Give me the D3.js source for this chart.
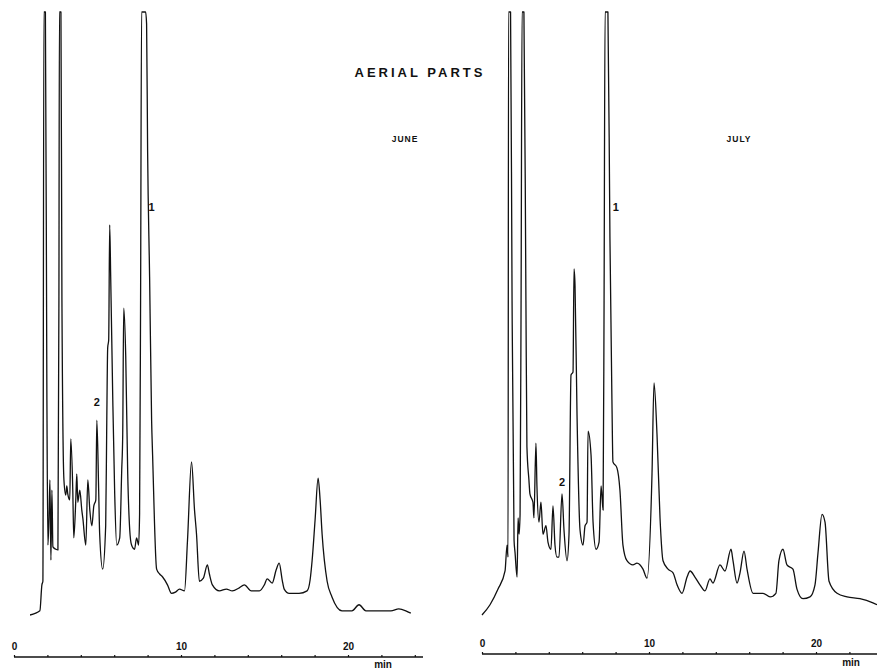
<!DOCTYPE html>
<html>
<head>
<meta charset="utf-8">
<script src="https://cdn.jsdelivr.net/npm/d3@7"></script>
<style>
  body { margin: 0; background: #fff; }
  svg { display: block; }
  text { font-family: "Liberation Sans", Arial, sans-serif; fill: #111; }
</style>
</head>
<body>
<div id="chart"></div>
<script>
// retention time (min), detector response (% of full scale; 100 = pen off scale)
var juneTrace = [
  [0.96,0],[1.55,0.7],[1.67,5.0],[1.73,5.6],[1.79,100],[1.88,100],[1.97,35.7],[2.03,11.6],
  [2.09,15.8],[2.15,22.4],[2.21,9.1],[2.27,20.7],[2.33,11.3],[2.51,10.9],[2.63,10.8],[2.69,52.2],
  [2.72,100],[2.81,100],[2.87,52.2],[2.99,22.4],[3.10,19.9],[3.16,21.4],[3.22,20.1],[3.34,19.1],
  [3.40,29.2],[3.52,20.7],[3.58,12.8],[3.70,19.1],[3.76,23.4],[3.82,18.7],[3.94,20.7],[4.06,17.4],
  [4.12,16.1],[4.30,11.6],[4.42,22.4],[4.54,17.4],[4.66,14.8],[4.78,18.1],[4.90,19.1],[4.96,32.3],
  [5.07,20.7],[5.13,13.4],[5.31,7.6],[5.49,14.8],[5.55,30.5],[5.61,44.3],[5.67,45.6],[5.73,64.7],
  [5.79,56.1],[5.91,36.5],[6.03,20.1],[6.15,11.6],[6.33,12.8],[6.45,24.0],[6.51,29.9],[6.57,50.9],
  [6.69,43.0],[6.81,23.4],[6.93,14.1],[7.04,11.6],[7.22,10.9],[7.34,12.8],[7.46,11.6],[7.52,16.7],
  [7.58,52.2],[7.64,100],[7.88,100],[7.94,98.0],[8.00,77.1],[8.12,56.1],[8.24,32.3],[8.30,26.5],
  [8.54,7.6],[8.72,6.8],[8.90,6.3],[9.19,5.0],[9.43,3.6],[9.67,3.8],[9.91,4.3],[10.21,4.0],
  [10.39,12.4],[10.63,25.4],[10.81,17.4],[10.93,13.4],[11.10,5.6],[11.34,6.1],[11.58,8.3],[11.70,6.8],
  [11.88,5.0],[12.30,4.0],[12.72,4.3],[13.07,4.0],[13.49,4.5],[13.79,5.0],[14.21,4.0],[14.69,4.0],
  [14.99,5.0],[15.16,6.0],[15.46,5.3],[15.70,7.5],[15.88,8.6],[16.06,5.8],[16.18,4.3],[16.48,3.6],
  [17.07,3.6],[17.55,4.0],[17.73,5.8],[17.85,9.0],[18.03,15.8],[18.21,22.7],[18.33,19.1],[18.45,13.4],
  [18.75,5.6],[19.04,3.0],[19.64,0.7],[20.24,0.7],[20.66,1.7],[21.07,0.7],[21.85,0.7],[22.57,0.7],
  [23.04,1.0],[23.46,0.7],[23.76,0.3]
];

var julyTrace = [
  [0,0],[0.48,1.7],[0.96,4.3],[1.38,7.3],[1.50,11.6],[1.56,9.6],[1.59,100],[1.71,100],
  [1.80,52.2],[1.92,12.4],[1.98,10.3],[2.10,6.3],[2.16,16.1],[2.22,13.4],[2.28,16.7],[2.34,52.2],
  [2.40,100],[2.51,100],[2.63,52.2],[2.69,27.9],[2.81,22.4],[2.87,20.1],[3.05,18.7],[3.11,16.1],
  [3.23,28.5],[3.29,21.4],[3.41,15.4],[3.53,18.7],[3.65,13.4],[3.83,14.8],[3.95,12.1],[4.13,10.9],
  [4.25,18.1],[4.37,11.6],[4.49,9.6],[4.61,9.6],[4.79,20.1],[4.91,14.1],[5.09,9.0],[5.21,13.4],
  [5.33,39.8],[5.45,40.3],[5.51,57.4],[5.57,54.7],[5.69,33.2],[5.87,14.1],[6.05,11.6],[6.17,14.8],
  [6.29,15.4],[6.35,30.5],[6.53,26.5],[6.65,15.4],[6.83,10.9],[7.01,12.1],[7.13,21.4],[7.25,17.4],
  [7.31,52.2],[7.37,100],[7.54,100],[7.66,62.7],[7.78,35.7],[7.84,25.4],[8.08,24.4],[8.26,20.7],
  [8.44,11.6],[8.68,9.0],[9.04,8.3],[9.28,8.6],[9.64,7.6],[9.88,6.1],[10.18,23.4],[10.30,38.5],
  [10.48,29.9],[10.66,16.1],[10.84,9.0],[11.14,7.6],[11.44,7.0],[11.68,5.0],[11.98,3.6],[12.28,6.3],
  [12.46,7.3],[12.75,6.3],[13.05,5.0],[13.35,4.0],[13.65,6.0],[13.83,5.3],[14.25,8.3],[14.55,7.3],
  [14.91,10.9],[15.03,9.0],[15.27,5.3],[15.45,7.0],[15.69,10.6],[15.87,7.6],[16.23,3.6],[16.83,3.6],
  [17.25,3.0],[17.60,3.6],[17.78,9.0],[18.02,10.9],[18.26,8.3],[18.62,7.6],[18.86,4.3],[19.22,2.7],
  [19.64,3.0],[19.94,5.0],[20.12,10.3],[20.36,16.7],[20.54,15.4],[20.78,5.6],[21.26,3.6],[21.86,3.0],
  [22.63,2.7],[23.41,2.0],[23.65,1.7]
];

// numbered peaks: [label, time, response where the label sits]
var junePeaks = [["1", 8.24, 67], ["2", 4.96, 34.7]];
var julyPeaks = [["1", 8.02, 67], ["2", 4.79, 21.4]];

var tickMinutes = [0,2,4,6,8,10,12,14,16,18,20,22,24];
var labelMinutes = [0,10,20];

var width = 877, height = 671;

var svg = d3.select("#chart").append("svg")
  .attr("width", width)
  .attr("height", height);

var y = d3.scaleLinear().domain([0, 100]).range([615, 12]);

var drawPanel = function(trace, peaks, month, x0, axisEnd, axisY, monthPos) {
  var x = d3.scaleLinear().domain([0, 10]).range([x0, x0 + 167]);

  var line = d3.line()
    .x(d => x(d[0]))
    .y(d => y(d[1]))
    .curve(d3.curveMonotoneX);

  svg.append("path")
    .datum(trace)
    .attr("d", line)
    .attr("fill", "none")
    .attr("stroke", "#111")
    .attr("stroke-width", 1.3)
    .attr("stroke-linejoin", "round");

  svg.selectAll(".peak-" + month)
    .data(peaks)
    .enter().append("text")
    .attr("class", "peak-" + month)
    .attr("x", d => x(d[1]))
    .attr("y", d => y(d[2]))
    .attr("text-anchor", "middle")
    .style("font-size", "11px")
    .style("font-weight", "bold")
    .text(d => d[0]);

  var axis = d3.axisTop(x)
    .tickValues(tickMinutes)
    .tickSize(2)
    .tickPadding(5)
    .tickFormat(d => labelMinutes.indexOf(d) >= 0 ? d : "");

  var g = svg.append("g")
    .attr("transform", "translate(0," + axisY + ")")
    .call(axis);
  g.select(".domain").remove();
  g.selectAll("text")
    .style("font-family", "'Liberation Sans', Arial, sans-serif")
    .style("font-size", "10px")
    .style("font-weight", "bold")
    .attr("fill", "#111");
  g.selectAll("line").attr("stroke", "#111").attr("stroke-width", 1.2);
  g.append("line")
    .attr("x1", x(0)).attr("x2", axisEnd)
    .attr("stroke", "#111")
    .attr("stroke-width", 1.5);

  svg.append("text")
    .attr("x", x(22.1))
    .attr("y", Math.min(axisY + 12, 668))
    .attr("text-anchor", "middle")
    .style("font-size", "10px")
    .style("font-weight", "bold")
    .text("min");

  svg.append("text")
    .attr("x", monthPos[0])
    .attr("y", monthPos[1])
    .attr("text-anchor", "middle")
    .style("font-size", "8.5px")
    .style("font-weight", "bold")
    .style("letter-spacing", "1px")
    .text(month);
};

drawPanel(juneTrace, junePeaks, "JUNE", 14, 423, 657, [405, 142]);
drawPanel(julyTrace, julyPeaks, "JULY", 482, 877, 654, [739, 142]);

svg.append("text")
  .attr("x", 420)
  .attr("y", 77)
  .attr("text-anchor", "middle")
  .style("font-size", "13px")
  .style("font-weight", "bold")
  .style("letter-spacing", "3px")
  .text("AERIAL PARTS");
</script>
</body>
</html>
